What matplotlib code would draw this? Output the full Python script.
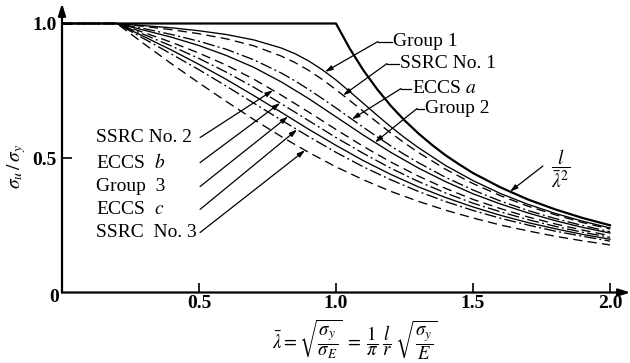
import numpy as np
import matplotlib
matplotlib.use("Agg")
import matplotlib.pyplot as plt

plt.rcParams['font.family'] = ['Liberation Serif', 'DejaVu Serif']
plt.rcParams['mathtext.fontset'] = 'stix'

# Non-dimensional slenderness and column strength ratios
lam = [0.0, 0.2, 0.3, 0.4, 0.5, 0.6, 0.7, 0.8, 0.9, 1.0,
       1.1, 1.2, 1.3, 1.4, 1.5, 1.6, 1.7, 1.8, 1.9, 2.0]
lam_fine = [0.0, 0.2, 0.3, 0.4, 0.5, 0.6, 0.7, 0.8, 0.85, 0.9, 0.95, 1.0,
            1.05, 1.1, 1.15, 1.2, 1.25, 1.3, 1.4, 1.5, 1.6, 1.7, 1.8, 1.9, 2.0]

group1 = [1, 1, .992, .984, .973, .959, .939, .909, .888, .861, .828, .790,
          .747, .703, .659, .616, .576, .539, .472, .416, .368, .328, .294,
          .265, .240]
ssrc1 = [1, 1, .989, .977, .962, .943, .917, .879, .855, .826, .792, .754,
         .714, .673, .633, .593, .556, .521, .458, .405, .360, .321, .289,
         .260, .236]
eccs_a = [1, 1, .981, .959, .934, .904, .865, .816, .787, .755, .721, .686,
          .650, .614, .579, .545, .513, .483, .428, .381, .340, .305, .275,
          .249, .226]
group2 = [1, 1, .975, .949, .918, .881, .837, .783, .721, .653,
          .585, .521, .463, .412, .367, .329, .296, .267, .242, .221]
ssrc2 = [1, 1, .966, .930, .890, .845, .793, .734, .671, .606,
         .543, .485, .433, .387, .346, .312, .281, .255, .232, .211]
eccs_b = [1, 1, .959, .916, .870, .819, .763, .702, .639, .576,
          .517, .462, .413, .370, .332, .300, .271, .246, .224, .205]
group3 = [1, 1, .951, .901, .848, .792, .732, .670, .607, .547,
          .490, .439, .393, .353, .318, .287, .260, .237, .216, .198]
eccs_c = [1, 1, .943, .886, .828, .767, .704, .641, .580, .521,
          .467, .419, .376, .338, .305, .276, .251, .228, .209, .191]
ssrc3 = [1, 1, .924, .850, .779, .710, .643, .580, .521, .467,
         .419, .376, .339, .306, .277, .251, .229, .209, .192, .177]

# Euler buckling limit
euler_lam = [0.0, 1.0, 1.05, 1.1, 1.15, 1.2, 1.25, 1.3, 1.35, 1.4,
             1.45, 1.5, 1.6, 1.7, 1.8, 1.9, 2.0]
euler = [1.0, 1.0, .907, .826, .756, .694, .640, .592, .549, .510,
         .476, .444, .391, .346, .309, .277, .250]

x_ticks = [0.5, 1.0, 1.5, 2.0]
x_tick_labels = ['0.5', '1.0', '1.5', '2.0']
y_ticks = [0.5, 1.0]
y_tick_labels = ['0.5', '1.0']

DASH = (0, (7, 4))
DASHDOT = (0, (9, 2.5, 1.5, 2.5))

curves = [
    ('Group 1', lam_fine, group1, '-'),
    ('SSRC No. 1', lam_fine, ssrc1, DASH),
    ('ECCS $a$', lam_fine, eccs_a, DASHDOT),
    ('Group 2', lam, group2, '-'),
    ('SSRC No. 2', lam, ssrc2, DASH),
    ('ECCS $b$', lam, eccs_b, DASHDOT),
    ('Group 3', lam, group3, '-'),
    ('ECCS $c$', lam, eccs_c, DASHDOT),
    ('SSRC No. 3', lam, ssrc3, DASH),
]

W, H = 630, 363
fig = plt.figure(figsize=(W / 100, H / 100), dpi=100)
x0_px, y0_px = 62, 292.5
sx, sy = 274.0, 269.0
xmax, ymax = 2.06, 1.06
ax = fig.add_axes([x0_px / W, (H - y0_px) / H, xmax * sx / W, ymax * sy / H])
ax.set_xlim(0, xmax)
ax.set_ylim(0, ymax)
for s in ax.spines.values():
    s.set_visible(False)

for name, xs, vals, ls in curves:
    ax.plot(xs, vals, color='black', lw=0.95, linestyle=ls)
ax.plot(euler_lam, euler, color='black', lw=1.6)

# axes with arrow heads
arrow = dict(arrowstyle='-|>,head_length=0.7,head_width=0.22', lw=1.6,
             color='black', shrinkA=0, shrinkB=0)
ax.annotate('', xy=(2.075, 0), xytext=(0, 0), arrowprops=arrow,
            annotation_clip=False)
ax.annotate('', xy=(0, 1.075), xytext=(0, 0), arrowprops=arrow,
            annotation_clip=False)

ax.set_xticks(x_ticks)
ax.set_xticklabels(x_tick_labels)
ax.set_yticks(y_ticks)
ax.set_yticklabels(y_tick_labels)
ax.tick_params(direction='in', length=7, width=1.2, labelsize=14, pad=3)
ax.tick_params(axis='y', left=True, right=False, pad=4)
ax.tick_params(axis='x', bottom=True, top=False, pad=2)
for t in ax.get_xticklabels() + ax.get_yticklabels():
    t.set_fontweight('bold')
ax.text(-0.029, -0.02, '0', fontsize=14, fontweight='bold',
        ha='center', va='center')

ax.text(-0.165, 0.47, r'$\sigma_u\,/\,\sigma_y$', fontsize=14,
        rotation=90, ha='center', va='center', transform=ax.transData)
fig.text(355 / W, 1 - 340 / H,
         r'$\bar{\lambda}=\sqrt{\dfrac{\sigma_y}{\sigma_E}}\;=\;'
         r'\dfrac{1}{\pi}\;\dfrac{l}{r}\;\sqrt{\dfrac{\sigma_y}{E}}$',
         fontsize=13.5, ha='center', va='center')

leader = dict(arrowstyle='-|>,head_length=0.45,head_width=0.14', lw=0.9,
              color='black', shrinkA=0, shrinkB=0)

# right-hand labels: text, elbow, curve point
right_labels = [
    ('Group 1', lam_fine, group1, 1.208, 0.933, 1.153, 0.96),
    ('SSRC No. 1', lam_fine, ssrc1, 1.234, 0.851, 1.186, 1.026),
    ('ECCS $a$', lam_fine, eccs_a, 1.277, 0.758, 1.237, 1.058),
    ('Group 2', lam, group2, 1.325, 0.684, 1.296, 1.142),
]
for text, xs, vals, tx, ty, kx, px in right_labels:
    py = np.interp(px, xs, vals)
    ax.text(tx, ty, text, fontsize=14, ha='left', va='center')
    ax.plot([kx, tx - 0.005], [ty, ty], color='black', lw=0.9, clip_on=False)
    ax.annotate('', xy=(px, py), xytext=(kx, ty), arrowprops=leader,
                annotation_clip=False)

# left-hand labels
left_labels = [
    ('SSRC No. 2', ssrc2, 0.576, 0.770),
    ('ECCS  $b$', eccs_b, 0.483, 0.796),
    ('Group  3', group3, 0.394, 0.825),
    ('ECCS  $c$', eccs_c, 0.309, 0.858),
    ('SSRC  No. 3', ssrc3, 0.223, 0.887),
]
for text, vals, ty, px in left_labels:
    py = np.interp(px, lam, vals)
    ax.text(0.124, ty, text, fontsize=14, ha='left', va='center')
    ax.annotate('', xy=(px, py), xytext=(0.504, ty), arrowprops=leader,
                annotation_clip=False)

# Euler curve label
ax.text(1.82, 0.46, r'$\dfrac{l}{\bar{\lambda}^{2}}$', fontsize=14,
        ha='center', va='center')
ex = 1.635
ax.annotate('', xy=(ex, np.interp(ex, euler_lam, euler)), xytext=(1.755, 0.47),
            arrowprops=leader, annotation_clip=False)

fig.savefig('out.png', dpi=100)
